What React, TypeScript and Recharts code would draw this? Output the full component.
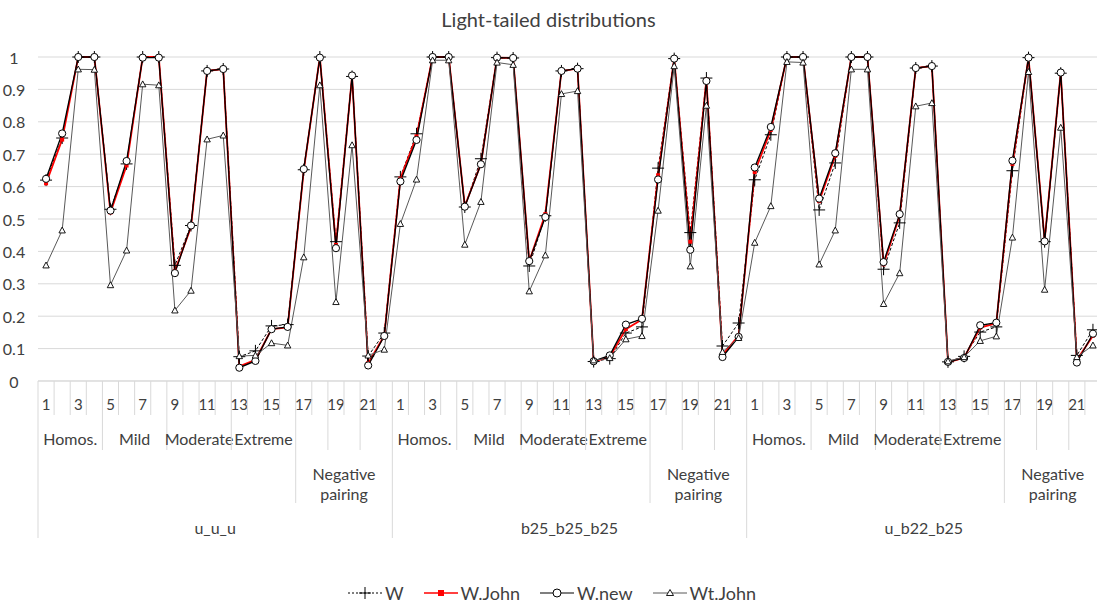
import { CartesianGrid, Legend, Line, LineChart, XAxis, YAxis } from "recharts"

// category structure (same in every block)
const groups = ["u_u_u", "b25_b25_b25", "u_b22_b25"]
const caseNumbers = Array.from({ length: 22 }, (_, i) => i + 1)
const subgroupSpans: Array<[string, number]> = [
  ["Homos.", 4],
  ["Mild", 4],
  ["Moderate", 4],
  ["Extreme", 4],
  ["", 2],
  ["", 2],
  ["", 2],
]
const pairingSpans: Array<[string, number]> = [
  ["", 16],
  ["Negative|pairing", 6],
]

// series values, 22 per block: u_u_u | b25_b25_b25 | u_b22_b25
const seriesW = [
  0.62, 0.75, 1.0, 1.0, 0.53, 0.67, 1.0, 1.0, 0.357, 0.48, 0.957, 0.963, 0.075, 0.093, 0.17, 0.174, 0.652, 1.0, 0.43, 0.94, 0.077, 0.148,
  0.63, 0.763, 1.0, 1.0, 0.537, 0.686, 0.998, 0.997, 0.355, 0.51, 0.957, 0.964, 0.06, 0.069, 0.148, 0.167, 0.657, 0.995, 0.458, 0.935, 0.108, 0.179,
  0.621, 0.76, 1.0, 1.0, 0.528, 0.673, 1.0, 1.0, 0.345, 0.488, 0.966, 0.972, 0.059, 0.076, 0.151, 0.167, 0.649, 0.998, 0.43, 0.95, 0.079, 0.158,
]
const seriesWJohn = [
  0.61, 0.745, 1.0, 1.0, 0.52, 0.665, 1.0, 1.0, 0.34, 0.475, 0.957, 0.963, 0.045, 0.065, 0.16, 0.165, 0.65, 1.0, 0.42, 0.94, 0.055, 0.14,
  0.625, 0.755, 1.0, 1.0, 0.54, 0.67, 0.998, 0.997, 0.37, 0.515, 0.957, 0.964, 0.06, 0.075, 0.16, 0.19, 0.635, 0.995, 0.43, 0.93, 0.08, 0.14,
  0.645, 0.775, 1.0, 1.0, 0.555, 0.695, 1.0, 1.0, 0.36, 0.51, 0.966, 0.972, 0.058, 0.072, 0.165, 0.178, 0.67, 0.998, 0.435, 0.952, 0.065, 0.14,
]
const seriesWNew = [
  0.624, 0.764, 1.0, 1.0, 0.526, 0.679, 0.998, 0.998, 0.333, 0.48, 0.957, 0.963, 0.041, 0.062, 0.16, 0.167, 0.654, 0.998, 0.41, 0.943, 0.048, 0.139,
  0.616, 0.744, 1.0, 1.0, 0.538, 0.669, 0.998, 0.997, 0.37, 0.506, 0.957, 0.964, 0.061, 0.079, 0.174, 0.192, 0.622, 0.995, 0.405, 0.926, 0.074, 0.136,
  0.659, 0.784, 1.0, 1.0, 0.563, 0.703, 1.0, 1.0, 0.367, 0.515, 0.966, 0.972, 0.059, 0.071, 0.172, 0.18, 0.68, 0.998, 0.431, 0.952, 0.057, 0.146,
]
const seriesWtJohn = [
  0.357, 0.465, 0.962, 0.961, 0.296, 0.403, 0.916, 0.913, 0.218, 0.279, 0.746, 0.758, 0.077, 0.079, 0.117, 0.11, 0.382, 0.913, 0.244, 0.728, 0.079, 0.097,
  0.485, 0.622, 0.99, 0.99, 0.421, 0.553, 0.983, 0.976, 0.277, 0.388, 0.886, 0.895, 0.064, 0.071, 0.129, 0.139, 0.526, 0.972, 0.354, 0.85, 0.09, 0.133,
  0.427, 0.54, 0.985, 0.983, 0.36, 0.465, 0.962, 0.962, 0.238, 0.333, 0.848, 0.858, 0.061, 0.074, 0.124, 0.138, 0.443, 0.954, 0.282, 0.782, 0.074, 0.11,
]
const yTicks = [0, 0.1, 0.2, 0.3, 0.4, 0.5, 0.6, 0.7, 0.8, 0.9, 1]

const data = seriesW.map((w, i) => ({
  idx: i,
  w,
  wJohn: seriesWJohn[i],
  wNew: seriesWNew[i],
  wtJohn: seriesWtJohn[i],
}))

const FONT = "Lato, 'Open Sans', sans-serif"
const TEXT = "#404040"
const GRID = "#d9d9d9"

const CHART_W = 1105
const CHART_H = 606
const MARGIN = { top: 57, right: 4, bottom: 65, left: 0 }
const Y_AXIS_W = 38
const X_AXIS_H = 160
const PLOT_H = CHART_H - MARGIN.top - MARGIN.bottom - X_AXIS_H
const AXIS_Y = MARGIN.top + PLOT_H
const PER_GROUP = caseNumbers.length
const BAND = (CHART_W - MARGIN.left - MARGIN.right - Y_AXIS_W) / data.length

// bottom of each row of the category axis, measured from the axis line
const ROW_END = [34, 69, 122, 157]

const spanStarts = (spans: Array<[string, number]>) => {
  const out: Array<{ start: number; len: number; label: string }> = []
  let s = 0
  spans.forEach(([label, len]) => {
    out.push({ start: s, len, label })
    s += len
  })
  return out
}
const level2 = spanStarts(subgroupSpans)
const level3 = spanStarts(pairingSpans)

function CategoryTick(props: any) {
  const { x, payload } = props
  const i = Number(payload.value)
  const k = i % PER_GROUP
  const g = Math.floor(i / PER_GROUP)
  const left = x - BAND / 2

  let lineEnd = ROW_END[0]
  if (k === 0) lineEnd = ROW_END[3]
  else if (level3.some((s) => s.start === k)) lineEnd = ROW_END[2]
  else if (level2.some((s) => s.start === k)) lineEnd = ROW_END[1]

  const sub = level2.find((s) => s.label && s.start + s.len / 2 - 1 === k)
  const pair = level3.find((s) => s.label && s.start + s.len / 2 - 1 === k)
  const textProps = { fontFamily: FONT, fill: TEXT, textAnchor: "middle" as const, dominantBaseline: "central" as const }

  return (
    <g>
      <line x1={left} x2={left} y1={AXIS_Y} y2={AXIS_Y + lineEnd} stroke={GRID} />
      {i === data.length - 1 && (
        <line x1={x + BAND / 2} x2={x + BAND / 2} y1={AXIS_Y} y2={AXIS_Y + ROW_END[3]} stroke={GRID} />
      )}
      {k % 2 === 0 && (
        <text x={x} y={AXIS_Y + 23} fontSize={15} {...textProps}>
          {caseNumbers[k]}
        </text>
      )}
      {sub && (
        <text x={x + BAND / 2} y={AXIS_Y + 57} fontSize={16} {...textProps}>
          {sub.label}
        </text>
      )}
      {pair &&
        pair.label.split("|").map((part, j) => (
          <text key={j} x={x + BAND / 2} y={AXIS_Y + 92 + j * 20} fontSize={16} {...textProps}>
            {part}
          </text>
        ))}
      {k === PER_GROUP / 2 - 1 && (
        <text x={x + BAND / 2} y={AXIS_Y + 146} fontSize={16} {...textProps}>
          {groups[g]}
        </text>
      )}
    </g>
  )
}

function ValueTick(props: any) {
  const { y, payload } = props
  return (
    <text x={14} y={y} fontSize={16} fontFamily={FONT} fill={TEXT} textAnchor="middle" dominantBaseline="central">
      {payload.value}
    </text>
  )
}

const plusDot = (p: any) => (
  <g key={`w-${p.index}`}>
    <line x1={p.cx - 6} x2={p.cx + 6} y1={p.cy} y2={p.cy} stroke="#000" strokeWidth={1} />
    <line x1={p.cx} x2={p.cx} y1={p.cy - 6} y2={p.cy + 6} stroke="#000" strokeWidth={1} />
  </g>
)
const squareDot = (p: any) => <rect key={`wj-${p.index}`} x={p.cx - 2} y={p.cy - 2} width={4} height={4} fill="#ff0000" />
const circleDot = (p: any) => (
  <circle key={`wn-${p.index}`} cx={p.cx} cy={p.cy} r={3.6} fill="#fff" stroke="#000" strokeWidth={1} />
)
const triangleDot = (p: any) => (
  <polygon
    key={`wt-${p.index}`}
    points={`${p.cx},${p.cy - 3.3} ${p.cx - 3.2},${p.cy + 2.6} ${p.cx + 3.2},${p.cy + 2.6}`}
    fill="#fff"
    stroke="#000"
    strokeWidth={0.9}
  />
)

const legendItems = [
  { name: "W", icon: "plus" },
  { name: "W.John", icon: "square" },
  { name: "W.new", icon: "circle" },
  { name: "Wt.John", icon: "triangle" },
]

function LegendIcon({ icon }: { icon: string }) {
  return (
    <svg width={34} height={14} style={{ display: "block" }}>
      {icon === "plus" && (
        <>
          <line x1={0} x2={34} y1={7} y2={7} stroke="#000" strokeDasharray="2 2" />
          <line x1={11} x2={23} y1={7} y2={7} stroke="#000" />
          <line x1={17} x2={17} y1={1} y2={13} stroke="#000" />
        </>
      )}
      {icon === "square" && (
        <>
          <line x1={0} x2={34} y1={7} y2={7} stroke="#ff0000" strokeWidth={1.5} />
          <rect x={14} y={4} width={6} height={6} fill="#ff0000" />
        </>
      )}
      {icon === "circle" && (
        <>
          <line x1={0} x2={34} y1={7} y2={7} stroke="#000" strokeWidth={1.2} />
          <circle cx={17} cy={7} r={4} fill="#fff" stroke="#000" />
        </>
      )}
      {icon === "triangle" && (
        <>
          <line x1={0} x2={34} y1={7} y2={7} stroke="#595959" />
          <polygon points="17,3.5 13.5,9.5 20.5,9.5" fill="#fff" stroke="#000" strokeWidth={0.9} />
        </>
      )}
    </svg>
  )
}

function LegendContent() {
  return (
    <div style={{ display: "flex", justifyContent: "center", gap: 20, fontFamily: FONT, fontSize: 18, color: TEXT, paddingLeft: 7 }}>
      {legendItems.map((it) => (
        <div key={it.name} style={{ display: "flex", alignItems: "center", gap: 3 }}>
          <LegendIcon icon={it.icon} />
          <span>{it.name}</span>
        </div>
      ))}
    </div>
  )
}

export default function App() {
  return (
    <div style={{ position: "absolute", left: 0, top: 0, width: 1097, height: 606, overflow: "hidden", background: "#fff" }}>
      <div
        style={{
          position: "absolute",
          top: 7,
          width: 1097,
          textAlign: "center",
          fontFamily: FONT,
          fontSize: 20,
          color: TEXT,
        }}
      >
        Light-tailed distributions
      </div>
      <LineChart width={CHART_W} height={CHART_H} data={data} margin={MARGIN}>
        <CartesianGrid horizontal vertical={false} stroke={GRID} />
        <XAxis
          dataKey="idx"
          type="category"
          scale="band"
          interval={0}
          height={X_AXIS_H}
          tickLine={false}
          axisLine={{ stroke: GRID }}
          tick={CategoryTick}
        />
        <YAxis
          width={Y_AXIS_W}
          domain={[0, 1]}
          ticks={yTicks}
          axisLine={false}
          tickLine={false}
          tick={ValueTick}
        />
        <Legend
          layout="horizontal"
          verticalAlign="middle"
          align="center"
          content={LegendContent}
          wrapperStyle={{ top: 582, left: 0, width: 1097 }}
        />
        <Line
          dataKey="w"
          name="W"
          stroke="#000"
          strokeWidth={1}
          strokeDasharray="3 2"
          dot={plusDot}
          isAnimationActive={false}
        />
        <Line dataKey="wJohn" name="W.John" stroke="#ff0000" strokeWidth={1.8} dot={squareDot} isAnimationActive={false} />
        <Line dataKey="wNew" name="W.new" stroke="#000" strokeWidth={1.3} dot={circleDot} isAnimationActive={false} />
        <Line dataKey="wtJohn" name="Wt.John" stroke="#595959" strokeWidth={1} dot={triangleDot} isAnimationActive={false} />
      </LineChart>
    </div>
  )
}
